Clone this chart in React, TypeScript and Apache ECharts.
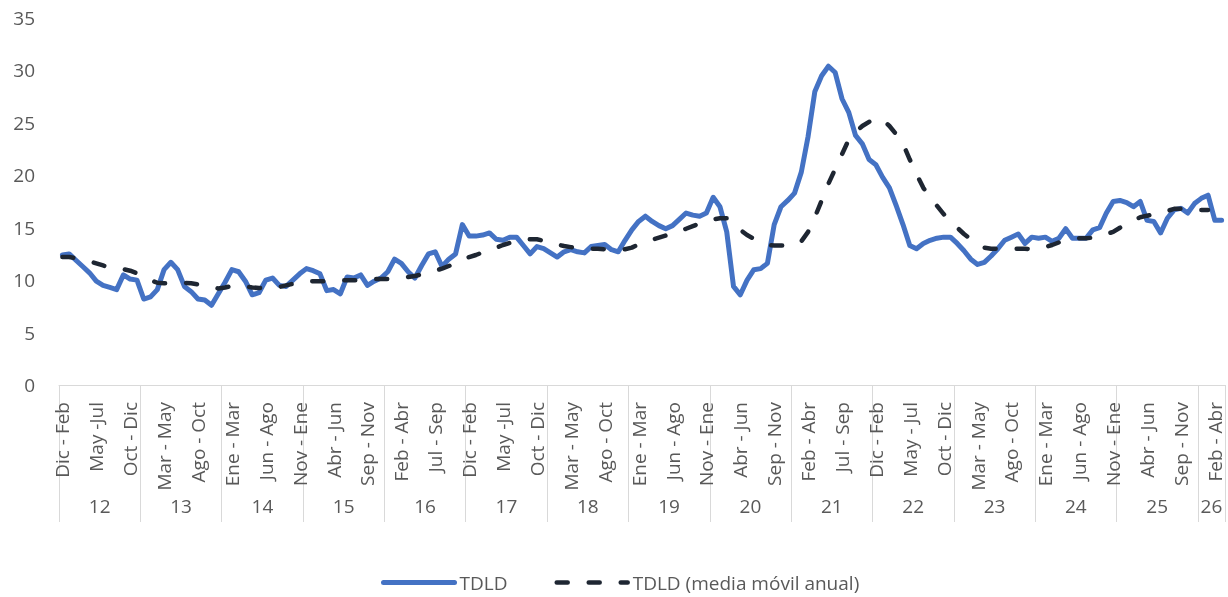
import * as echarts from "echarts";
import { useEffect, useRef } from "react";

const TRIMESTERS = [
  "Dic - Feb", "Ene - Mar", "Feb - Abr", "Mar - May", "Abr - Jun", "May - Jul",
  "Jun - Ago", "Jul - Sep", "Ago - Oct", "Sep - Nov", "Oct - Dic", "Nov - Ene",
];
const YEARS = ["12", "13", "14", "15", "16", "17", "18", "19", "20", "21", "22", "23", "24", "25", "26"];
const MONTHS_PER_YEAR = [12, 12, 12, 12, 12, 12, 12, 12, 12, 12, 12, 12, 12, 12, 4];
const LABEL_OVERRIDES: Record<number, string> = { 5: "May -Jul", 65: "May -Jul" };

const TDLD = [
  12.4, 12.5, 11.9, 11.3, 10.7, 9.9, 9.5, 9.3, 9.1, 10.5, 10.1, 10.0,
  8.2, 8.4, 9.1, 11.0, 11.7, 11.0, 9.4, 8.9, 8.2, 8.1, 7.6, 8.7,
  9.8, 11.0, 10.8, 9.9, 8.6, 8.8, 10.0, 10.2, 9.5, 9.4, 10.0, 10.6,
  11.1, 10.9, 10.6, 9.0, 9.1, 8.7, 10.3, 10.2, 10.5, 9.5, 9.9, 10.2,
  10.8, 12.0, 11.6, 10.8, 10.2, 11.4, 12.5, 12.7, 11.3, 12.0, 12.5, 15.3,
  14.2, 14.2, 14.3, 14.5, 13.9, 13.8, 14.1, 14.1, 13.3, 12.5, 13.2, 13.0,
  12.6, 12.2, 12.7, 12.9, 12.7, 12.6, 13.2, 13.3, 13.4, 12.9, 12.7, 13.8,
  14.8, 15.6, 16.1, 15.6, 15.2, 14.9, 15.2, 15.8, 16.4, 16.2, 16.1, 16.4,
  17.9, 17.0, 14.6, 9.4, 8.6, 10.0, 11.0, 11.1, 11.6, 15.3, 17.0, 17.6,
  18.3, 20.3, 23.7, 28.0, 29.5, 30.4, 29.8, 27.3, 26.0, 23.8, 23.0, 21.5,
  21.0, 19.8, 18.8, 17.1, 15.3, 13.3, 13.0, 13.5, 13.8, 14.0, 14.1, 14.1,
  13.5, 12.8, 12.0, 11.5, 11.7, 12.3, 13.0, 13.8, 14.1, 14.4, 13.5, 14.1,
  14.0, 14.1, 13.7, 14.0, 14.9, 14.0, 14.0, 14.0, 14.8, 15.0, 16.4, 17.5,
  17.6, 17.4, 17.0, 17.5, 15.7, 15.6, 14.5, 15.9, 16.7, 16.85, 16.4, 17.3,
  17.8, 18.1, 15.7, 15.7,
];

const TDLD_MA = [
  12.2, 12.2, 12.1, 11.95, 11.8, 11.6, 11.4, 11.2, 11.1, 11.05, 10.9, 10.65,
  10.3, 10.0, 9.75, 9.7, 9.7, 9.75, 9.75, 9.7, 9.6, 9.5, 9.35, 9.2,
  9.3, 9.45, 9.5, 9.4, 9.3, 9.25, 9.2, 9.2, 9.35, 9.5, 9.65, 9.8,
  9.85, 9.9, 9.9, 9.9, 9.95, 10.0, 10.0, 10.0, 10.0, 10.05, 10.1, 10.1,
  10.1, 10.15, 10.2, 10.3, 10.4, 10.55, 10.7, 10.9, 11.1, 11.35, 11.6, 11.9,
  12.2, 12.4, 12.65, 12.9, 13.1, 13.35, 13.55, 13.75, 13.85, 13.9, 13.9, 13.75,
  13.55, 13.4, 13.25, 13.15, 13.05, 13.0, 13.0, 13.0, 12.95, 12.9, 12.9, 12.95,
  13.1, 13.4, 13.6, 13.85, 14.05, 14.25, 14.45, 14.65, 14.9, 15.15, 15.4, 15.6,
  15.8, 15.9, 15.9, 15.4, 14.8, 14.3, 13.95, 13.6, 13.35, 13.3, 13.3, 13.3,
  13.35, 13.7, 14.6, 16.0, 17.6, 19.2, 20.6, 22.0, 23.4, 24.1, 24.7, 25.1,
  25.4, 25.3, 24.7, 23.9, 23.0, 21.5, 20.1, 18.8, 17.9, 17.1, 16.3, 15.6,
  15.0, 14.4, 13.9, 13.4, 13.1, 13.0, 13.0, 13.0, 13.0, 13.0, 13.0, 12.95,
  13.0, 13.15, 13.35, 13.6, 13.8, 13.9, 14.0, 14.0, 14.05, 14.2, 14.4, 14.6,
  15.0, 15.4, 15.7, 16.0, 16.15, 16.25, 16.35, 16.6, 16.8, 16.8, 16.8, 16.75,
  16.7, 16.7, null, null,
];

const Y_MIN = 0;
const Y_MAX = 35;
const Y_STEP = 5;

const TEXT = "#595959";
const AXIS = "#D9D9D9";
const FONT = "Open Sans";
const BLUE = "#4472C4";
const DARK = "#1E2632";

function buildCategories() {
  const cats: string[] = [];
  MONTHS_PER_YEAR.forEach((n) => {
    for (let m = 0; m < n; m++) {
      const idx = cats.length;
      cats.push(LABEL_OVERRIDES[idx] ?? TRIMESTERS[m]);
    }
  });
  return cats;
}

export default function App() {
  const ref = useRef<HTMLDivElement>(null);
  useEffect(() => {
    if (!ref.current) return;
    const chart = echarts.init(ref.current, null, { renderer: "svg" });
    const categories = buildCategories();
    const total = categories.length;
    const boundaries: number[] = [0];
    const centers: number[] = [];
    const yearAt: Record<string, string> = {};
    let acc = 0;
    MONTHS_PER_YEAR.forEach((n, k) => {
      const c = acc + n / 2;
      centers.push(c);
      yearAt[String(c)] = YEARS[k];
      acc += n;
      boundaries.push(acc);
    });

    chart.setOption({
      animation: false,
      textStyle: { fontFamily: FONT },
      grid: { left: 59, right: 3, top: 18, bottom: 212, containLabel: false },
      legend: {
        left: 376,
        top: 568,
        itemWidth: 71,
        itemHeight: 20,
        itemGap: 47,
        itemStyle: { opacity: 0 },
        textStyle: { fontSize: 19, color: TEXT, fontFamily: FONT },
        data: [
          { name: "TDLD", lineStyle: { width: 5 } },
          { name: "TDLD (media móvil anual)", lineStyle: { width: 4.5 } },
        ],
      },
      xAxis: [
        {
          type: "category",
          data: categories,
          boundaryGap: true,
          axisLine: { show: true, lineStyle: { color: AXIS, width: 1 } },
          axisTick: { show: false },
          splitLine: { show: false },
          axisLabel: {
            interval: 4,
            rotate: 90,
            margin: 17,
            fontSize: 19,
            color: TEXT,
            fontFamily: FONT,
          },
        },
        {
          type: "value",
          min: 0,
          max: total,
          position: "bottom",
          axisLine: { show: false },
          splitLine: { show: false },
          axisTick: {
            show: true,
            customValues: boundaries,
            length: 137,
            lineStyle: { color: AXIS, width: 1 },
          },
          axisLabel: {
            customValues: centers,
            formatter: (v: number) => yearAt[String(v)] ?? "",
            margin: 111,
            fontSize: 19,
            color: TEXT,
            fontFamily: FONT,
          },
        },
      ],
      yAxis: {
        type: "value",
        min: Y_MIN,
        max: Y_MAX,
        interval: Y_STEP,
        axisLine: { show: false },
        axisTick: { show: false },
        splitLine: { show: false },
        axisLabel: { margin: 24, fontSize: 19, color: TEXT, fontFamily: FONT },
      },
      series: [
        {
          name: "TDLD",
          type: "line",
          xAxisIndex: 0,
          data: TDLD,
          symbol: "none",
          lineStyle: { color: BLUE, width: 5, cap: "round", join: "round" },
          itemStyle: { color: BLUE },
          z: 3,
        },
        {
          name: "TDLD (media móvil anual)",
          type: "line",
          xAxisIndex: 0,
          data: TDLD_MA,
          symbol: "none",
          lineStyle: { color: DARK, width: 4.5, type: [11, 21], cap: "round", join: "round" },
          itemStyle: { color: DARK },
          z: 4,
        },
      ],
    });
    return () => chart.dispose();
  }, []);
  return <div ref={ref} style={{ position: "fixed", left: 0, top: 0, width: 1228, height: 597 }} />;
}
